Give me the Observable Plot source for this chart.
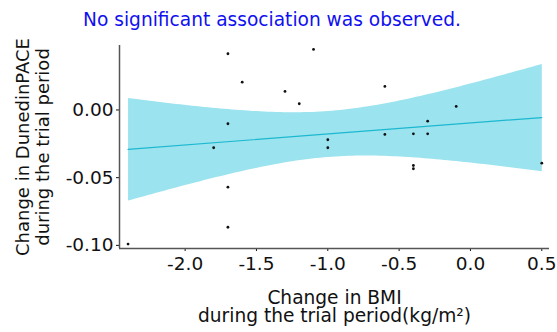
<!DOCTYPE html>
<html>
<head>
<meta charset="utf-8">
<script src="https://cdn.jsdelivr.net/npm/d3@7"></script>
<script src="https://cdn.jsdelivr.net/npm/@observablehq/plot@0.6"></script>
<style>
  body { margin: 0; background: #fff; font-family: "DejaVu Sans", sans-serif; }
  #title { width: 544px; height: 36px; text-align: center; color: #1010f0; font-size: 18.6px; line-height: 40px; box-sizing: border-box; white-space: nowrap; overflow: visible; }
</style>
</head>
<body>
<div id="title">No significant association was observed.</div>
<div id="chart"></div>
<script>
const bmiChange = [-2.4, -1.7, -1.1, -1.6, -1.3, -1.2, -1.7, -1.8, -1.7, -1.7, -1.0, -1.0, -0.6, -0.6, -0.4, -0.3, -0.3, -0.1, -0.4, -0.4, 0.5];
const paceChange = [-0.099, 0.0415, 0.0447, 0.0205, 0.0137, 0.0046, -0.0102, -0.0279, -0.057, -0.0866, -0.022, -0.0279, 0.0174, -0.0181, -0.0176, -0.0083, -0.0176, 0.0026, -0.041, -0.0434, -0.0393];
const xTicks = [-2.0, -1.5, -1.0, -0.5, 0.0, 0.5];
const yTicks = [-0.10, -0.05, 0.00];
const xDomain = [-2.46, 0.554];
const yDomain = [-0.1023, 0.0476];
const xLabelLines = ["Change in BMI", "during the trial period(kg/m²)"];
const yLabel = "Change in DunedinPACE\nduring the trial period";

const data = bmiChange.map((x, i) => ({x, y: paceChange[i]}));
const font = "DejaVu Sans";

const chart = Plot.plot({
  width: 557,
  height: 296,
  marginTop: 9,
  marginLeft: 119,
  marginRight: 8,
  marginBottom: 84,
  style: {fontFamily: font, fontSize: "18.5px", color: "#111"},
  x: {domain: xDomain, ticks: xTicks, tickFormat: d => d.toFixed(1), tickSize: 3, tickPadding: 5, label: null},
  y: {domain: yDomain, ticks: yTicks, tickFormat: d => d.toFixed(2), tickSize: 3, tickPadding: 3, label: null},
  marks: [
    Plot.linearRegressionY(data, {x: "x", y: "y", stroke: "#1cb8d0", strokeWidth: 1.2, fill: "#9be3ee", fillOpacity: 1, ci: 0.95}),
    Plot.dot(data, {x: "x", y: "y", r: 1.4, fill: "#111", stroke: null}),
    Plot.ruleX([xDomain[0]], {stroke: "#555", strokeWidth: 1.5}),
    Plot.ruleY([yDomain[0]], {stroke: "#555", strokeWidth: 1.5}),
    Plot.text([xLabelLines[0]], {frameAnchor: "bottom", lineAnchor: "middle", dy: 50, fontSize: 18.6, fill: "#111"}),
    Plot.text([xLabelLines[1]], {frameAnchor: "bottom", lineAnchor: "middle", dy: 68, fontSize: 18.6, fill: "#111"}),
    Plot.text([yLabel], {frameAnchor: "left", textAnchor: "middle", lineAnchor: "middle", dx: -87, rotate: -90, fontSize: 18, lineHeight: 1.1, fill: "#111"})
  ]
});
document.getElementById("chart").appendChild(chart);
</script>
</body>
</html>
